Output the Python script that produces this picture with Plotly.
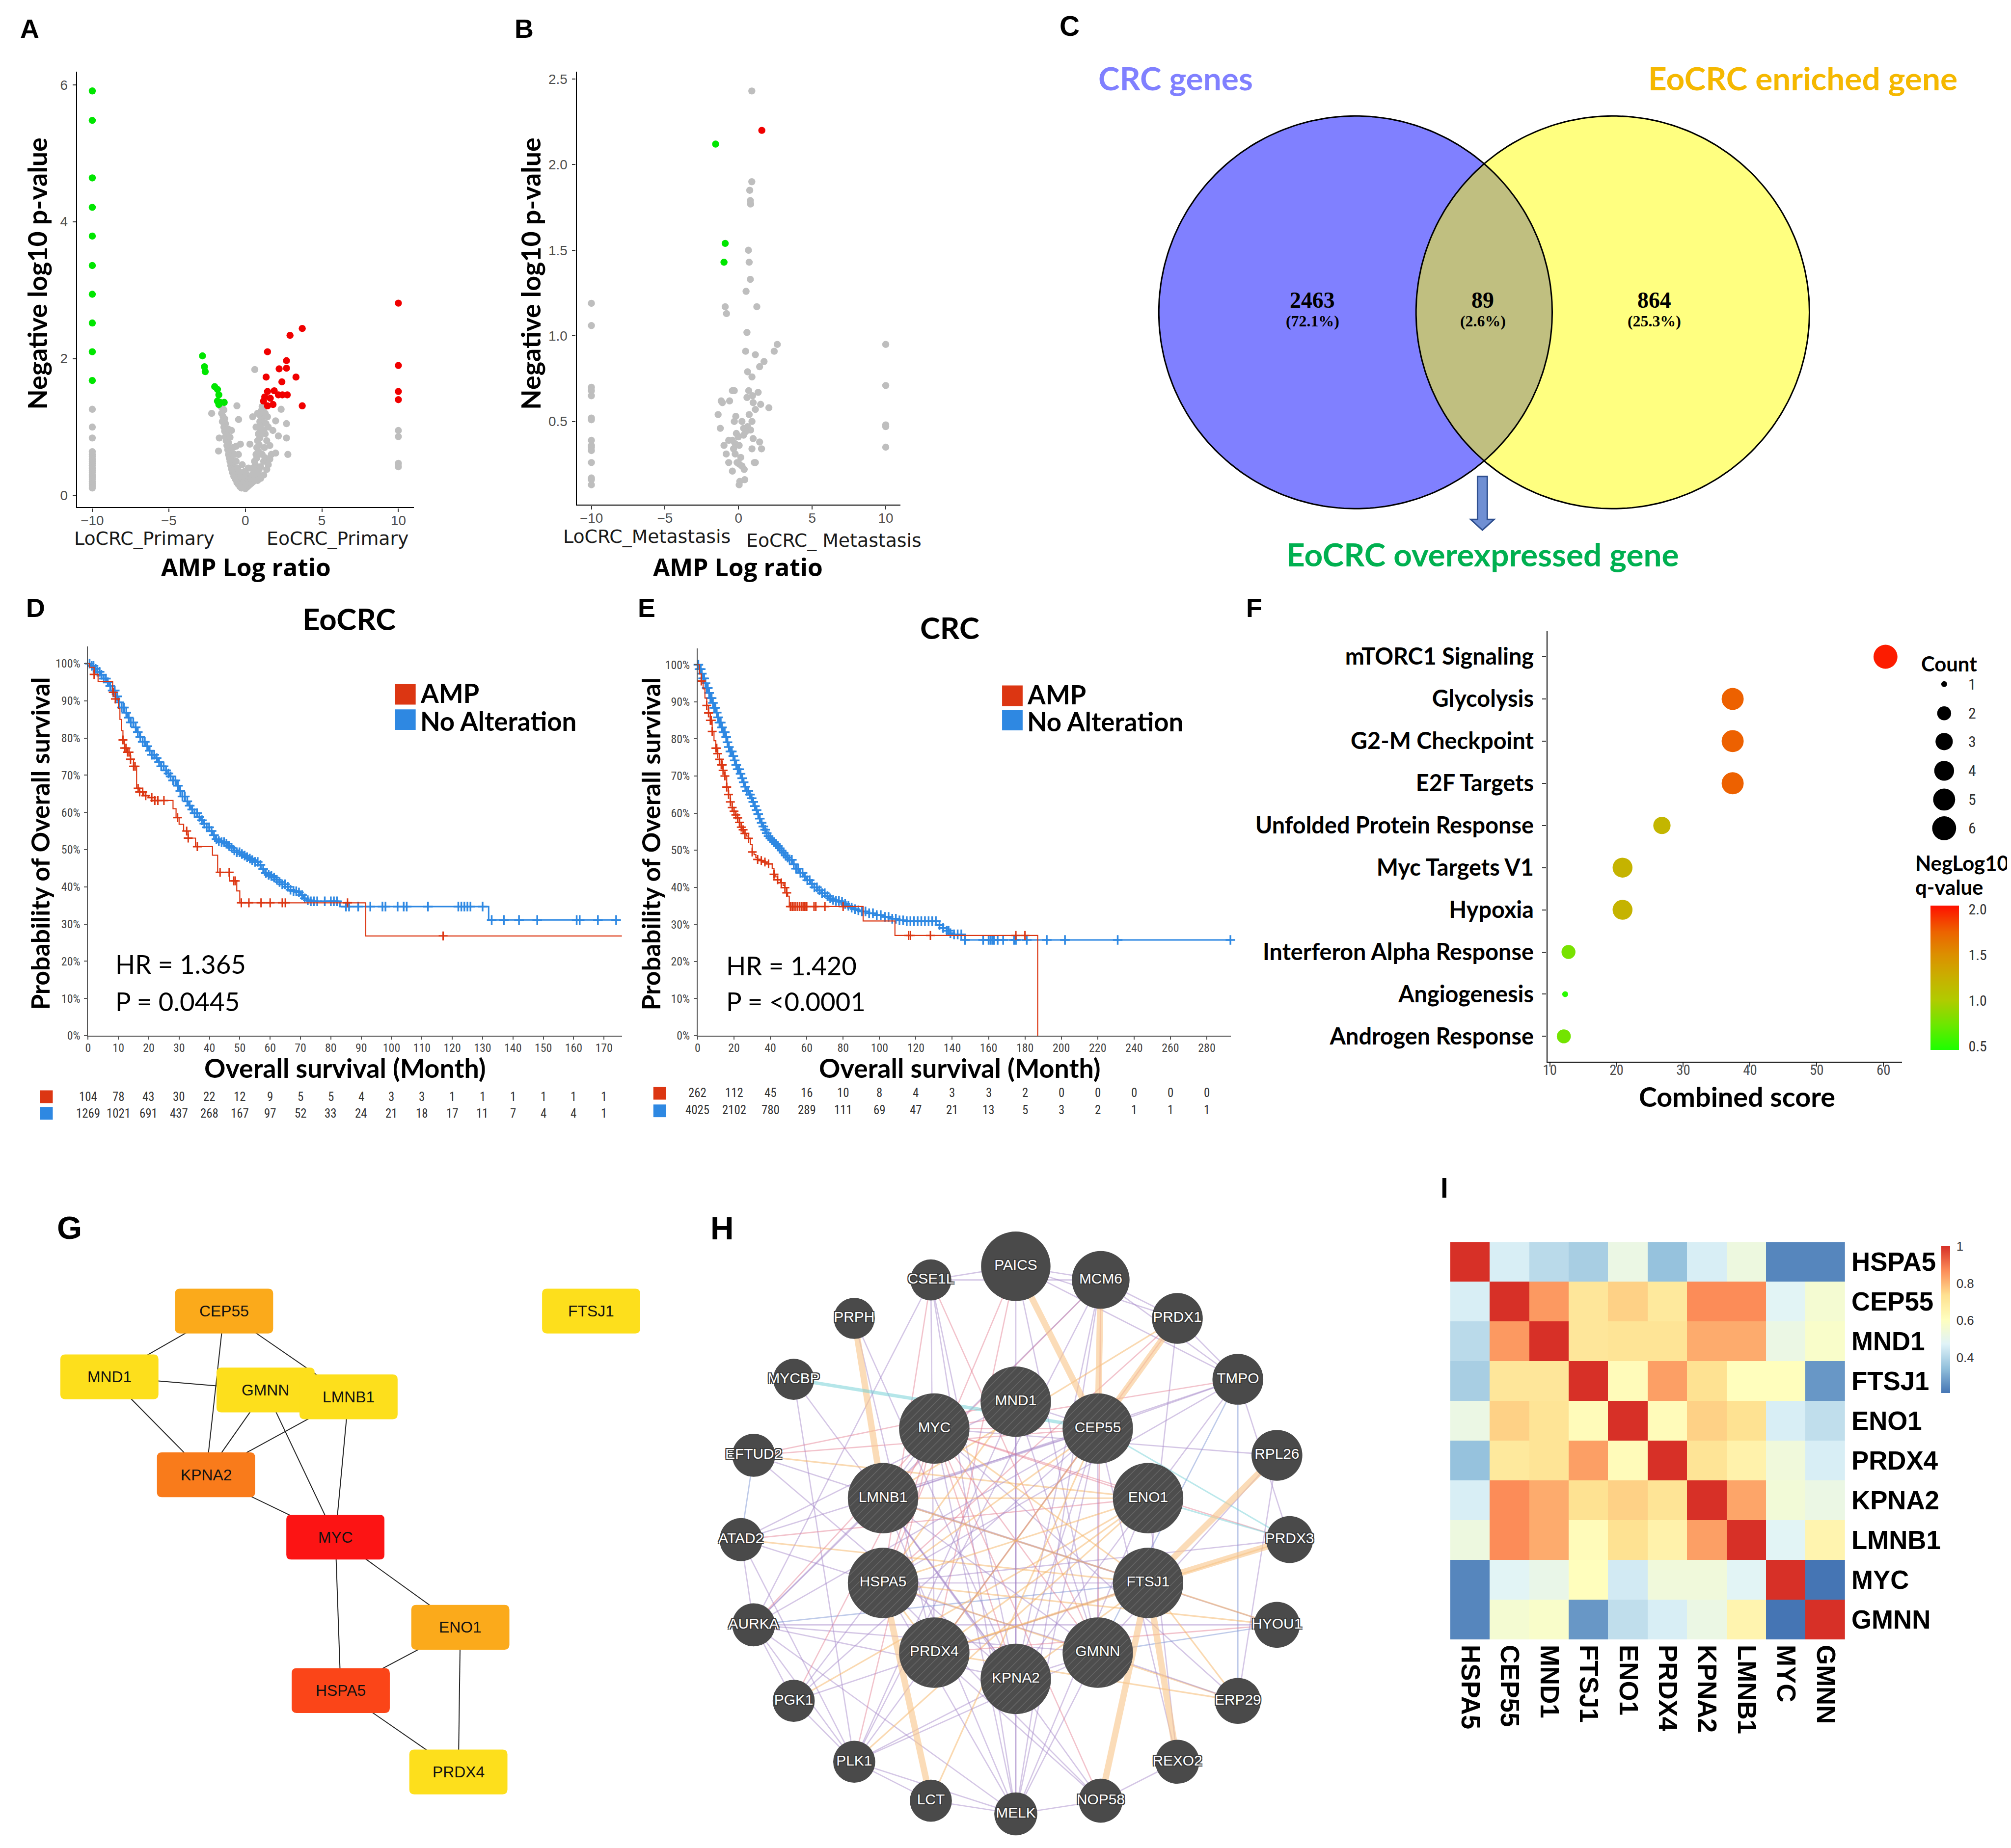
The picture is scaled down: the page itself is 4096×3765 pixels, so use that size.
import numpy as np
import plotly.graph_objects as go

W, H = 4111.0, 3779.0
S = 0.996

def px(x):
    return x / W

def py(y):
    return 1.0 - y / H

def f(s):
    return s * S

def fi(s):
    return int(round(s * S))

LATO = "Lato"
ARIAL = "Liberation Sans, Arial, sans-serif"
NARROW = "Liberation Sans Narrow, Arial Narrow, Roboto Condensed, Roboto, sans-serif"
DEJAVU = "DejaVu Sans"
OPEN = "Open Sans"
SERIF = "Liberation Serif, Times New Roman, serif"

# ============================ DATA ============================
# ---- A: volcano, primary ----
a_gray_pts = [
    (-10, 1.26), (-10, 1.00), (-10, 0.84), (-10, 0.64), (-10, 0.60), (-10, 0.57), (-10, 0.53), (-10, 0.50),
    (-10, 0.47), (-10, 0.44), (-10, 0.40), (-10, 0.37), (-10, 0.34), (-10, 0.30), (-10, 0.27), (-10, 0.24),
    (-10, 0.20), (-10, 0.17), (-10, 0.14), (-10, 0.11),
    (-1.60, 1.30), (-1.50, 1.28), (-1.40, 1.25), (-1.55, 1.20), (-1.45, 1.15), (-1.35, 1.12), (-1.50, 1.08),
    (-1.30, 1.05), (-1.40, 1.00), (-1.25, 0.98), (-1.35, 0.94), (-1.20, 0.90), (-1.30, 0.86), (-1.15, 0.83),
    (-1.25, 0.80), (-1.10, 0.77), (-1.20, 0.73), (-1.05, 0.70), (-1.15, 0.67), (-1.00, 0.64), (-1.10, 0.60),
    (-0.95, 0.58), (-1.05, 0.55), (-0.90, 0.52), (-1.00, 0.50), (-0.85, 0.47), (-0.95, 0.44), (-0.80, 0.42),
    (-0.90, 0.39), (-0.75, 0.37), (-0.85, 0.34), (-0.70, 0.32), (-0.60, 0.30), (-0.75, 0.28), (-0.55, 0.26),
    (-0.65, 0.24), (-0.50, 0.22), (-0.40, 0.20), (-0.55, 0.19), (-0.30, 0.17), (-0.45, 0.16), (-0.20, 0.15),
    (-0.35, 0.13), (-0.10, 0.12), (0.00, 0.10), (-0.25, 0.11), (-0.60, 0.50), (-0.70, 0.60), (-0.50, 0.40),
    (-0.30, 0.30), (-0.80, 0.70), (-0.90, 0.95), (-1.00, 0.85), (-0.40, 0.35), (-0.20, 0.25), (-0.10, 0.20),
    (0.10, 0.18), (0.00, 0.25), (-0.60, 0.72), (-1.70, 0.84), (-1.75, 0.65), (-2.20, 1.20), (-1.12, 0.97),
    (-0.55, 1.31), (-0.44, 1.11), (-0.32, 0.75), (0.30, 0.75), (0.48, 1.15), (0.62, 1.84), (-0.20, 0.45),
    (-0.45, 0.60), (0.20, 0.40), (0.10, 0.30), (-0.05, 0.35),
    (0.10, 0.12), (0.20, 0.14), (0.15, 0.20), (0.30, 0.16), (0.25, 0.22), (0.40, 0.18), (0.35, 0.26),
    (0.50, 0.20), (0.45, 0.30), (0.60, 0.24), (0.55, 0.35), (0.70, 0.28), (0.50, 0.40), (0.65, 0.45),
    (0.80, 0.33), (0.60, 0.50), (0.75, 0.55), (0.90, 0.38), (0.70, 0.60), (0.85, 0.65), (1.00, 0.42),
    (0.75, 0.70), (0.90, 0.74), (0.80, 0.80), (0.95, 0.84), (0.85, 0.90), (1.00, 0.94), (0.90, 1.00),
    (1.05, 1.04), (0.95, 1.08), (1.10, 1.12), (1.00, 1.16), (1.15, 1.20), (1.05, 1.24), (1.20, 1.28),
    (1.10, 1.30), (1.20, 0.50), (1.30, 0.55), (1.10, 0.60), (1.25, 0.70), (1.40, 0.80), (1.30, 0.90),
    (1.50, 1.00), (1.35, 1.05), (1.20, 0.95), (1.45, 1.15), (1.60, 0.73), (1.60, 0.53), (1.40, 0.38),
    (1.20, 0.30), (1.00, 0.25), (0.80, 0.22), (1.50, 0.45), (1.70, 0.60), (1.80, 0.95), (0.70, 1.00),
    (0.80, 1.20), (1.30, 1.20),
    (2.34, 1.26), (1.98, 1.09), (2.69, 1.05), (2.16, 0.87), (2.69, 0.84), (2.78, 0.60), (1.98, 0.62),
    (10, 0.95), (10, 0.86), (10, 0.47), (10, 0.42),
]
a_green_x = [-10, -10, -10, -10, -10, -10, -10, -10, -10, -10,
             -2.80, -2.67, -2.62, -2.00, -1.82, -1.73, -1.82, -1.65, -1.38, -1.73]
a_green_y = [5.91, 5.48, 4.64, 4.21, 3.79, 3.36, 2.94, 2.52, 2.10, 1.68,
             2.04, 1.88, 1.81, 1.59, 1.55, 1.47, 1.38, 1.36, 1.36, 1.33]
a_red_x = [1.45, 1.36, 2.21, 2.69, 2.69, 2.39, 3.31, 2.92, 3.72, 3.72, 1.45, 1.19, 1.63, 1.89,
           2.16, 2.42, 2.74, 1.81, 1.45, 1.27, 10, 10, 10, 10]
a_red_y = [2.10, 1.73, 1.85, 1.97, 1.86, 1.66, 1.73, 2.34, 2.44, 1.31, 1.52, 1.38, 1.42, 1.53,
           1.47, 1.47, 1.47, 1.33, 1.31, 1.44, 2.81, 1.90, 1.52, 1.40]
a_xticks = [-10, -5, 0, 5, 10]
a_yticks = [0, 2, 4, 6]
a_groups = ["LoCRC_Primary", "EoCRC_Primary"]

# ---- B: volcano, metastasis ----
b_gray_pts = [
    (0.90, 2.43), (0.90, 1.90), (0.76, 1.85), (0.80, 1.79), (0.82, 1.77), (0.67, 1.50), (0.72, 1.43),
    (0.80, 1.33), (0.51, 1.26), (1.24, 1.17), (-0.91, 1.17), (-0.82, 1.13), (0.57, 1.02), (2.63, 0.95),
    (2.42, 0.91), (0.48, 0.91), (1.14, 0.89), (1.73, 0.85), (1.43, 0.82), (0.61, 0.79), (0.91, 0.76),
    (-0.42, 0.68), (-0.29, 0.68), (0.69, 0.68), (1.33, 0.67), (0.95, 0.65), (0.57, 0.64), (-1.18, 0.62),
    (-0.61, 0.62), (-1.10, 0.61), (0.99, 0.61), (1.50, 0.60), (2.06, 0.58), (1.14, 0.57), (-1.39, 0.54),
    (0.72, 0.54), (-0.19, 0.53), (-0.29, 0.50), (0.23, 0.50), (0.91, 0.50), (0.61, 0.47), (0.34, 0.46),
    (-1.24, 0.46), (0.82, 0.45), (0.48, 0.44), (-0.15, 0.43), (0.34, 0.42), (0.99, 0.40), (-0.67, 0.39),
    (-0.42, 0.39), (-0.02, 0.41), (1.43, 0.38), (-0.99, 0.36), (-0.23, 0.37), (0.04, 0.36), (0.91, 0.34),
    (1.56, 0.34), (-0.34, 0.34), (-0.84, 0.31), (-0.23, 0.31), (0.15, 0.29), (-0.10, 0.26), (1.07, 0.26),
    (1.14, 0.26), (-0.67, 0.26), (0.06, 0.25), (0.23, 0.24), (0.38, 0.22), (-0.42, 0.21), (0.42, 0.16),
    (0.08, 0.15), (0.04, 0.13),
    (-10, 1.19), (-10, 1.06), (-10, 0.70), (-10, 0.68), (-10, 0.65), (-10, 0.52), (-10, 0.51), (-10, 0.39),
    (-10, 0.36), (-10, 0.35), (-10, 0.33), (-10, 0.26), (-10, 0.17), (-10, 0.16), (-10, 0.13),
    (10, 0.95), (10, 0.71), (10, 0.48), (10, 0.47), (10, 0.35),
]
b_green_x = [-1.56, -0.91, -0.99]
b_green_y = [2.12, 1.54, 1.43]
b_red_x = [1.58]
b_red_y = [2.20]
b_yticks = [0.5, 1.0, 1.5, 2.0, 2.5]
b_groups = ["LoCRC_Metastasis", "EoCRC_ Metastasis"]

# ---- C: Venn ----
venn_sets = ["CRC genes", "EoCRC enriched gene"]
venn_counts = [2463, 89, 864]          # CRC only, both, EoCRC only
venn_result = "EoCRC overexpressed gene"

# ---- D: KM EoCRC ----
d_amp_t = [0, 0.5, 2, 3.3, 8.1, 9, 10, 10.5, 11, 11.5, 12, 13, 14, 15, 16, 17, 18.4, 20, 22, 28,
           29, 30, 31.5, 33, 35.4, 41, 42.7, 46.6, 49, 50, 91.5]
d_amp_s = [100, 99, 97.1, 95.2, 92.3, 90.5, 88, 85, 82, 79.5, 77.3, 76.2, 74.3, 72.4, 66.5, 65.5, 64.5,
           64, 63.2, 61, 58.6, 56.8, 55, 53.1, 50.8, 48.5, 43.9, 41.6, 38.9, 35.7, 26.8]
d_amp_end = 176
d_amp_cens = [2, 8.3, 9, 11.5, 12, 12.5, 13, 13.5, 14, 15, 15.5, 16.5, 17, 18, 19, 21, 22, 23, 25,
              29.5, 32.5, 33, 36, 43.5, 46.5, 48, 48.5, 50.5, 53, 57, 60, 64, 65, 85.5, 117, 176]
d_no_t = [0, 1, 2, 3, 4, 5, 6, 7, 8, 9, 10, 11, 12, 13, 14, 15, 16, 17, 18, 19, 20, 21, 22, 23, 24, 25,
          26, 27, 28, 29, 30, 31, 32, 33, 34, 35, 36, 37, 38, 39, 40, 41, 42, 43, 44, 45, 46, 47, 48, 49,
          50, 51, 52, 53, 54, 55, 56, 57, 58, 59, 60, 61, 62, 63, 64, 65, 66, 67, 68, 69, 70, 71, 72, 73,
          83, 132]
d_no_s = [100, 99.4, 98.6, 97.8, 97.0, 96.0, 95.0, 94.0, 92.8, 91.2, 89.6, 88.2, 86.8, 85.5, 84.2, 82.9,
          81.6, 80.3, 79.0, 77.8, 76.6, 75.5, 74.6, 73.6, 72.4, 71.3, 70.5, 69.7, 68.6, 67.2, 65.8, 64.3,
          63.0, 61.8, 60.8, 59.8, 58.8, 57.9, 57.0, 56.0, 55.0, 53.9, 52.8, 52.3, 52.0, 51.6, 51.0, 50.5,
          49.8, 49.3, 48.8, 48.4, 48.0, 47.6, 47.2, 46.7, 45.9, 44.8, 43.7, 43.2, 42.9, 42.5, 41.9, 41.3,
          40.7, 40.0, 39.2, 38.9, 38.8, 38.5, 37.8, 36.9, 36.4, 36.1, 34.7, 31.1]
d_no_end = 174
d_no_cens = [0.5, 1.2, 1.8, 2.5, 3.1, 3.8, 4.4, 5.2, 5.9, 6.5, 7.3, 8.1, 8.8, 9.6, 10.3, 11.1, 11.8, 12.6,
             13.4, 14.1, 14.9, 15.7, 16.4, 17.2, 18.0, 18.7, 19.5, 20.3, 21.0, 21.8, 22.6, 23.4, 24.1, 24.9,
             25.7, 26.5, 27.2, 28.0, 28.8, 29.6, 30.4, 31.1, 31.9, 32.7, 33.5, 34.3, 35.1, 35.9, 36.7, 37.5,
             38.3, 39.1, 39.9, 40.7, 41.5, 42.3, 43.1, 44.0, 44.8, 45.6, 46.5, 47.3, 48.2, 49.0, 49.9, 50.7,
             51.6, 52.4, 53.3, 54.1, 55.0, 55.9, 56.8, 57.7, 58.6, 59.5, 60.4, 61.3, 62.2, 63.1, 64.0, 64.9,
             65.8, 66.7, 67.7, 68.6, 69.5, 70.5, 71.4, 72.4, 73.4, 74.4, 75.5, 78, 80, 81, 82, 85, 86, 89, 93,
             97, 98, 102, 104, 105, 112, 122, 123, 124, 125, 126, 130, 133, 137, 142, 148, 161, 162, 168, 174]
d_xticks = [0, 10, 20, 30, 40, 50, 60, 70, 80, 90, 100, 110, 120, 130, 140, 150, 160, 170]
d_risk_amp = [104, 78, 43, 30, 22, 12, 9, 5, 5, 4, 3, 3, 1, 1, 1, 1, 1, 1]
d_risk_no = [1269, 1021, 691, 437, 268, 167, 97, 52, 33, 24, 21, 18, 17, 11, 7, 4, 4, 1]
d_stats = ["HR = 1.365", "P = 0.0445"]

# ---- E: KM CRC ----
e_amp_t = [0, 1, 2, 3, 4, 5, 6, 7, 8, 9, 10, 11, 12, 13, 14, 15, 16, 17, 18, 19, 20, 21, 22, 23, 24, 25,
           26, 27, 28, 29, 30, 31, 32, 33, 34, 36, 38, 41, 42, 43, 44, 45.5, 47, 48, 49, 49.5, 50.4, 91,
           108.5, 187]
e_amp_s = [100, 97.5, 95.6, 93.5, 91, 89, 87, 85, 82, 79.5, 77.5, 76, 74.5, 73, 71.5, 70, 67, 65, 63,
           61.5, 60.5, 59.5, 58.7, 57.5, 56.2, 55.5, 54.5, 53.8, 53.2, 51.5, 49.5, 48.8, 48, 47.5, 47.2,
           46.8, 46.3, 45, 43.5, 42.8, 42, 41.2, 40.5, 39.9, 38.5, 37.6, 34.8, 30.9, 27, 0]
e_amp_end = 187
e_amp_cens = [2, 5, 6, 7, 7.5, 8, 10, 10.5, 11, 12, 13, 13.5, 14, 15, 16, 17, 18, 19, 20, 21, 22, 23,
              24, 25, 26, 28, 30, 33, 35, 37, 39, 42, 44, 46, 48, 49, 51, 52, 53, 54, 55, 56, 57, 58, 59,
              60, 64, 65, 70, 80, 116, 117, 128, 175, 180]
e_no_t = [0, 1, 2, 3, 4, 5, 6, 7, 8, 9, 10, 11, 12, 13, 14, 15, 16, 17, 18, 19, 20, 21, 22, 23, 24, 25,
          26, 27, 28, 29, 30, 31, 32, 33, 34, 35, 36, 37, 38, 39, 40, 41, 42, 43, 44, 45, 46, 47, 48, 49,
          50, 52, 54, 56, 58, 60, 62, 64, 66, 68, 70, 72, 74, 76, 78, 80, 82, 84, 86, 88, 90, 94, 98, 102,
          106, 110, 115, 133, 135, 137, 139, 141, 147]
e_no_s = [100, 98.8, 97.6, 96.3, 95, 93.7, 92.4, 91, 89.7, 88.4, 87.1, 85.8, 84.4, 83.1, 81.8, 80.5, 79.1,
          77.8, 76.6, 75.4, 74.2, 73, 71.8, 70.6, 69.4, 68.3, 67.1, 66, 65, 64, 63, 61.9, 60.8, 59.7, 58.5,
          57.4, 56.4, 55.5, 54.6, 53.8, 53.2, 52.7, 52.2, 51.7, 51.1, 50.5, 49.9, 49.3, 48.6, 48, 47.4,
          46.2, 45, 43.9, 42.9, 41.9, 40.9, 40, 39.2, 38.4, 37.6, 37, 36.6, 36.3, 36, 35.5, 35, 34.5, 34.1,
          33.8, 33.5, 33, 32.5, 32, 31.5, 31.1, 30.9, 29.8, 29, 28.3, 27.6, 27.3, 25.8]
e_no_end = 293
e_no_cens = [0.4, 1.0, 1.7, 2.3, 3.0, 3.6, 4.3, 5.0, 5.6, 6.3, 7.0, 7.7, 8.4, 9.1, 9.8, 10.5, 11.2, 12.0,
             12.7, 13.4, 14.2, 14.9, 15.7, 16.4, 17.2, 18.0, 18.8, 19.6, 20.4, 21.2, 22.0, 22.8, 23.6, 24.5,
             25.3, 26.2, 27.0, 27.9, 28.8, 29.7, 30.6, 31.5, 32.4, 33.3, 34.2, 35.2, 36.1, 37.1, 38.0, 39.0,
             40.0, 41.0, 42.0, 43.0, 44.1, 45.1, 46.2, 47.3, 48.4, 49.5, 50.6, 51.8, 52.9, 54.1, 55.3, 56.5,
             57.7, 59.0, 60.3, 61.6, 62.9, 64.2, 65.6, 67.0, 68.4, 69.9, 71.4, 72.9, 74.5, 76.1, 77.7, 79.4,
             81.1, 82.9, 84.7, 86.5, 88.4, 90.3, 92.3, 94.3, 96.4, 98.5, 100.7, 103, 105, 107, 109, 111, 113,
             115, 117, 119, 121, 123, 125, 127, 129, 131, 133, 135, 137, 138, 139, 141, 143, 145, 147, 157,
             160, 161, 162, 163, 165, 168, 174, 175, 181, 192, 202, 231, 293]
e_xticks = [0, 20, 40, 60, 80, 100, 120, 140, 160, 180, 200, 220, 240, 260, 280]
e_risk_amp = [262, 112, 45, 16, 10, 8, 4, 3, 3, 2, 0, 0, 0, 0, 0]
e_risk_no = [4025, 2102, 780, 289, 111, 69, 47, 21, 13, 5, 3, 2, 1, 1, 1]
e_stats = ["HR = 1.420", "P = &lt;0.0001"]
km_yticks = [0, 10, 20, 30, 40, 50, 60, 70, 80, 90, 100]
km_groups = ["AMP", "No Alteration"]

# ---- F: enrichment dot plot ----
f_terms = ["mTORC1 Signaling", "Glycolysis", "G2-M Checkpoint", "E2F Targets", "Unfolded Protein Response",
           "Myc Targets V1", "Hypoxia", "Interferon Alpha Response", "Angiogenesis", "Androgen Response"]
f_score = [60.3, 37.4, 37.4, 37.4, 26.8, 20.9, 20.9, 12.8, 12.3, 12.1]
f_count = [6, 5, 5, 5, 3, 4, 4, 2, 1, 2]
f_negq = [2.0, 1.76, 1.76, 1.76, 1.2, 1.22, 1.22, 0.78, 0.5, 0.76]
f_xticks = [10, 20, 30, 40, 50, 60]
f_count_levels = [1, 2, 3, 4, 5, 6]
f_q_ticks = [0.5, 1.0, 1.5, 2.0]

# ---- G: hub network ----
g_genes = ["CEP55", "FTSJ1", "MND1", "GMNN", "LMNB1", "KPNA2", "MYC", "ENO1", "HSPA5", "PRDX4"]
g_edges = [("CEP55", "MND1"), ("CEP55", "KPNA2"), ("CEP55", "LMNB1"), ("MND1", "GMNN"), ("MND1", "KPNA2"),
           ("GMNN", "KPNA2"), ("LMNB1", "KPNA2"), ("GMNN", "MYC"), ("LMNB1", "MYC"), ("KPNA2", "MYC"),
           ("MYC", "HSPA5"), ("MYC", "ENO1"), ("ENO1", "HSPA5"), ("ENO1", "PRDX4"), ("HSPA5", "PRDX4")]

# ---- H: GeneMANIA network ----
h_edges = [
    ("CSE1L", "KPNA2", "p"), ("CSE1L", "PRDX4", "p"), ("CSE1L", "GMNN", "r"), ("CSE1L", "MELK", "p"),
    ("CSE1L", "PAICS", "p"), ("CSE1L", "MCM6", "p"), ("CSE1L", "HSPA5", "r"), ("CSE1L", "AURKA", "p"),
    ("PAICS", "MCM6", "p"), ("PAICS", "KPNA2", "p"), ("PAICS", "PRDX4", "r"), ("PAICS", "TMPO", "p"),
    ("PAICS", "PRDX1", "p"), ("PAICS", "GMNN", "p"), ("PAICS", "HSPA5", "r"),
    ("MCM6", "TMPO", "p"), ("MCM6", "PRDX1", "p"), ("MCM6", "KPNA2", "p"), ("MCM6", "GMNN", "r"),
    ("MCM6", "PLK1", "p"), ("MCM6", "MELK", "p"), ("MCM6", "LMNB1", "r"), ("MCM6", "AURKA", "p"),
    ("PRDX1", "TMPO", "p"), ("PRDX1", "PRDX4", "r"), ("PRDX1", "HSPA5", "r"), ("PRDX1", "LMNB1", "o"),
    ("PRDX1", "FTSJ1", "p"), ("TMPO", "MYC", "r"), ("TMPO", "LMNB1", "p"), ("TMPO", "HSPA5", "p"),
    ("TMPO", "GMNN", "b"), ("TMPO", "ERP29", "b"), ("TMPO", "KPNA2", "p"), ("TMPO", "PRDX3", "p"),
    ("TMPO", "CEP55", "p"), ("PRPH", "PRDX4", "p"), ("PRPH", "KPNA2", "p"), ("MYCBP", "KPNA2", "p"),
    ("MYCBP", "PLK1", "p"), ("EFTUD2", "CEP55", "r"), ("EFTUD2", "ENO1", "o"), ("EFTUD2", "ATAD2", "b"),
    ("EFTUD2", "KPNA2", "p"), ("EFTUD2", "FTSJ1", "p"), ("EFTUD2", "MND1", "r"), ("ATAD2", "CEP55", "p"),
    ("ATAD2", "MND1", "p"), ("ATAD2", "GMNN", "p"), ("ATAD2", "AURKA", "p"), ("ATAD2", "PLK1", "p"),
    ("ATAD2", "ENO1", "r"), ("ATAD2", "FTSJ1", "o"), ("AURKA", "PLK1", "p"), ("AURKA", "MELK", "p"),
    ("AURKA", "CEP55", "p"), ("AURKA", "KPNA2", "p"), ("AURKA", "GMNN", "p"), ("AURKA", "MYC", "r"),
    ("AURKA", "PGK1", "p"), ("AURKA", "LMNB1", "p"), ("AURKA", "FTSJ1", "b"), ("PGK1", "ENO1", "o"),
    ("PGK1", "MYC", "r"), ("PGK1", "HSPA5", "p"), ("PGK1", "PLK1", "p"), ("PGK1", "FTSJ1", "p"),
    ("PGK1", "CEP55", "p"), ("PLK1", "CEP55", "p"), ("PLK1", "MND1", "p"), ("PLK1", "KPNA2", "p"),
    ("PLK1", "MYC", "r"), ("PLK1", "MELK", "p"), ("PLK1", "GMNN", "p"), ("PLK1", "LCT", "p"),
    ("PLK1", "ENO1", "o"), ("LCT", "CEP55", "o"), ("LCT", "MELK", "p"), ("MELK", "CEP55", "p"),
    ("MELK", "MND1", "p"), ("MELK", "GMNN", "p"), ("MELK", "MYC", "p"), ("MELK", "LMNB1", "p"),
    ("MELK", "HSPA5", "p"), ("MELK", "NOP58", "p"), ("MELK", "ENO1", "p"), ("MELK", "KPNA2", "p"),
    ("NOP58", "MYC", "r"), ("NOP58", "REXO2", "p"), ("NOP58", "PRDX4", "p"), ("NOP58", "HSPA5", "p"),
    ("NOP58", "LMNB1", "p"), ("REXO2", "ENO1", "p"), ("REXO2", "CEP55", "p"), ("ERP29", "HSPA5", "o"),
    ("ERP29", "PRDX4", "o"), ("ERP29", "MYC", "p"), ("ERP29", "GMNN", "p"), ("HYOU1", "HSPA5", "o"),
    ("HYOU1", "PRDX4", "r"), ("HYOU1", "LMNB1", "p"), ("HYOU1", "AURKA", "p"), ("HYOU1", "GMNN", "b"),
    ("PRDX3", "PRDX4", "o"), ("PRDX3", "HSPA5", "p"), ("PRDX3", "MYC", "r"), ("RPL26", "MYC", "p"),
    ("RPL26", "GMNN", "p"), ("RPL26", "ERP29", "p"), ("MYC", "CEP55", "r"), ("MYC", "ENO1", "r"),
    ("MYC", "HSPA5", "r"), ("MYC", "KPNA2", "r"), ("MYC", "GMNN", "r"), ("MYC", "LMNB1", "p"),
    ("MND1", "CEP55", "p"), ("MND1", "KPNA2", "p"), ("MND1", "GMNN", "p"), ("MND1", "HSPA5", "o"),
    ("CEP55", "KPNA2", "p"), ("CEP55", "GMNN", "p"), ("CEP55", "LMNB1", "p"), ("CEP55", "HSPA5", "o"),
    ("CEP55", "PRDX4", "o"), ("ENO1", "HSPA5", "o"), ("ENO1", "PRDX4", "o"), ("ENO1", "LMNB1", "o"),
    ("HSPA5", "PRDX4", "o"), ("HSPA5", "FTSJ1", "p"), ("LMNB1", "KPNA2", "p"), ("LMNB1", "GMNN", "p"),
    ("KPNA2", "GMNN", "p"), ("FTSJ1", "PRDX4", "o"), ("FTSJ1", "LMNB1", "o"), ("FTSJ1", "KPNA2", "o"),
    ("FTSJ1", "MYC", "o"), ("CEP55", "PRDX3", "t"), ("ENO1", "PRDX3", "t"),
    ("PAICS", "CEP55", "O"), ("MCM6", "CEP55", "O"), ("PRDX1", "CEP55", "O"), ("RPL26", "FTSJ1", "O"),
    ("PRDX3", "FTSJ1", "O"), ("REXO2", "FTSJ1", "O"), ("NOP58", "FTSJ1", "O"), ("PRPH", "LMNB1", "O"),
    ("LCT", "HSPA5", "O"), ("HYOU1", "FTSJ1", "o"), ("ERP29", "FTSJ1", "o"), ("MYCBP", "CEP55", "T"),
]
h_inner = ["MND1", "MYC", "CEP55", "LMNB1", "ENO1", "HSPA5", "FTSJ1", "PRDX4", "GMNN", "KPNA2"]

# ---- I: correlation heatmap ----
i_genes = ["HSPA5", "CEP55", "MND1", "FTSJ1", "ENO1", "PRDX4", "KPNA2", "LMNB1", "MYC", "GMNN"]
i_corr = [
    [1.00, 0.46, 0.41, 0.38, 0.52, 0.35, 0.46, 0.53, 0.24, 0.24],
    [0.46, 1.00, 0.85, 0.71, 0.76, 0.70, 0.87, 0.87, 0.48, 0.56],
    [0.41, 0.85, 1.00, 0.71, 0.72, 0.72, 0.82, 0.82, 0.52, 0.58],
    [0.38, 0.71, 0.71, 1.00, 0.62, 0.84, 0.73, 0.61, 0.61, 0.27],
    [0.52, 0.76, 0.72, 0.62, 1.00, 0.62, 0.76, 0.73, 0.46, 0.42],
    [0.35, 0.70, 0.72, 0.84, 0.62, 1.00, 0.72, 0.66, 0.54, 0.46],
    [0.46, 0.87, 0.82, 0.73, 0.76, 0.72, 1.00, 0.83, 0.55, 0.52],
    [0.53, 0.87, 0.82, 0.62, 0.73, 0.66, 0.84, 1.00, 0.48, 0.65],
    [0.24, 0.48, 0.51, 0.61, 0.45, 0.54, 0.54, 0.48, 1.00, 0.21],
    [0.24, 0.56, 0.58, 0.27, 0.42, 0.46, 0.52, 0.65, 0.21, 1.00],
]
i_ticks = [0.4, 0.6, 0.8, 1.0]

# ============================ LAYOUT CONSTANTS (reference px) ============================
g_pos = {"CEP55": (442, 2683), "FTSJ1": (1194, 2683), "MND1": (207, 2818), "GMNN": (527, 2845),
         "LMNB1": (697, 2859), "KPNA2": (405, 3019), "MYC": (670, 3147), "ENO1": (926, 3332),
         "HSPA5": (681, 3462), "PRDX4": (922, 3629)}
g_col = {"CEP55": "#fbaa1b", "FTSJ1": "#fddf1c", "MND1": "#fddf1c", "GMNN": "#fddf1c", "LMNB1": "#fddf1c",
         "KPNA2": "#f97b1b", "MYC": "#fc1414", "ENO1": "#fbaa1b", "HSPA5": "#fb4518", "PRDX4": "#fddf1c"}
h_pos = {
    "PAICS": (2064, 2591, 71), "MCM6": (2238, 2619, 59), "CSE1L": (1890, 2619, 42), "PRPH": (1733, 2698, 42),
    "PRDX1": (2395, 2698, 52), "MYCBP": (1609, 2823, 42), "TMPO": (2519, 2823, 52), "MND1": (2064, 2869, 72),
    "MYC": (1897, 2924, 72), "CEP55": (2232, 2924, 72), "EFTUD2": (1527, 2979, 44), "RPL26": (2599, 2979, 52),
    "LMNB1": (1792, 3067, 72), "ENO1": (2335, 3067, 72), "ATAD2": (1501, 3152, 44), "PRDX3": (2625, 3152, 48),
    "HSPA5": (1792, 3241, 72), "FTSJ1": (2335, 3241, 72), "AURKA": (1527, 3327, 44), "HYOU1": (2599, 3327, 47),
    "PRDX4": (1897, 3384, 72), "GMNN": (2232, 3384, 72), "KPNA2": (2064, 3438, 72), "PGK1": (1609, 3483, 43),
    "ERP29": (2519, 3483, 47), "PLK1": (1733, 3608, 43), "REXO2": (2395, 3608, 45), "LCT": (1890, 3688, 43),
    "NOP58": (2238, 3688, 45), "MELK": (2064, 3715, 44)}
h_style = {"p": ("rgba(165,135,200,0.48)", 2.6), "r": ("rgba(226,120,140,0.45)", 2.6),
           "o": ("rgba(245,180,100,0.50)", 3.2), "b": ("rgba(120,145,210,0.48)", 2.6),
           "O": ("rgba(248,198,140,0.62)", 13.0), "T": ("rgba(120,210,215,0.55)", 7.0),
           "t": ("rgba(120,210,215,0.50)", 3.0)}

AMP_RED = "#dc3612"
NO_BLUE = "#2e88e2"

# ============================ FIGURE ============================
fig = go.Figure()


def sc(**kw):
    kw.setdefault("showlegend", False)
    kw.setdefault("hoverinfo", "skip")
    fig.add_trace(go.Scatter(**kw))


PT = 14.5
# ---- A & B scatter ----
sc(x=[p[0] for p in a_gray_pts], y=[p[1] for p in a_gray_pts], mode="markers",
   marker=dict(color="#bebebe", size=f(PT), opacity=1, line=dict(width=0)), xaxis="x", yaxis="y")
sc(x=a_green_x, y=a_green_y, mode="markers",
   marker=dict(color="#00e600", size=f(PT), opacity=1, line=dict(width=0)), xaxis="x", yaxis="y")
sc(x=a_red_x, y=a_red_y, mode="markers",
   marker=dict(color="#f00000", size=f(PT), opacity=1, line=dict(width=0)), xaxis="x", yaxis="y")
sc(x=[p[0] for p in b_gray_pts], y=[p[1] for p in b_gray_pts], mode="markers",
   marker=dict(color="#bebebe", size=f(PT), opacity=1, line=dict(width=0)), xaxis="x2", yaxis="y2")
sc(x=b_green_x, y=b_green_y, mode="markers",
   marker=dict(color="#00e600", size=f(PT), opacity=1, line=dict(width=0)), xaxis="x2", yaxis="y2")
sc(x=b_red_x, y=b_red_y, mode="markers",
   marker=dict(color="#f00000", size=f(PT), opacity=1, line=dict(width=0)), xaxis="x2", yaxis="y2")


# ---- KM ----
def km(t, s, t_end, cens, color, xa, ya, lw=2.2, ms=13, mw=3):
    sc(x=list(t) + [t_end], y=list(s) + [s[-1]], mode="lines",
       line=dict(color=color, width=f(lw), shape="hv"), xaxis=xa, yaxis=ya)
    idx = np.searchsorted(np.asarray(t, float), np.asarray(cens, float), side="right") - 1
    cy = np.asarray(s, float)[idx]
    sc(x=cens, y=cy, mode="markers", cliponaxis=False,
       marker=dict(symbol="cross-thin", size=f(ms), color=color, opacity=1, line=dict(color=color, width=f(mw))),
       xaxis=xa, yaxis=ya)


km(d_no_t, d_no_s, d_no_end, d_no_cens, NO_BLUE, "x3", "y3", lw=3, ms=14, mw=3.5)
km(d_amp_t, d_amp_s, d_amp_end, d_amp_cens, AMP_RED, "x3", "y3")
km(e_no_t, e_no_s, e_no_end, e_no_cens, NO_BLUE, "x4", "y4", lw=3, ms=14, mw=3.5)
km(e_amp_t, e_amp_s, e_amp_end, e_amp_cens, AMP_RED, "x4", "y4")

# ---- F dot plot ----
def count_size(c):
    c = np.asarray(c, float)
    return (12 + 37 * np.sqrt((c - 1) / 5.0)) * S


F_CMIN, F_CMAX = 0.46, 2.04
F_CS = [[0.0, "#1eff00"], [0.18, "#6fe600"], [0.342, "#b0cc00"], [0.5, "#c8b000"],
        [0.658, "#dc9000"], [0.816, "#ec6400"], [1.0, "#ff1000"]]
sc(x=f_score, y=f_terms, mode="markers", xaxis="x5", yaxis="y5",
   marker=dict(size=count_size(f_count), color=f_negq, colorscale=F_CS, cmin=F_CMIN, cmax=F_CMAX,
               opacity=1, line=dict(width=0), showscale=True,
               colorbar=dict(x=px(3938), xanchor="left", xpad=0, y=py((1851 + 2147) / 2), yanchor="middle",
                             ypad=0, len=(2147 - 1851) / H, lenmode="fraction", thickness=f(58),
                             thicknessmode="pixels", outlinewidth=0, tickvals=f_q_ticks,
                             ticktext=["%.1f" % v for v in f_q_ticks], ticks="outside", ticklen=f(14),
                             tickcolor="rgba(0,0,0,0)", tickfont=dict(family=NARROW, size=f(30), color="#333333"))))

# ---- I heatmap ----
RDYLBU = [[0.0, "#4575B4"], [1 / 6, "#91BFDB"], [2 / 6, "#E0F3F8"], [3 / 6, "#FFFFBF"],
          [4 / 6, "#FEE090"], [5 / 6, "#FC8D59"], [1.0, "#D73027"]]
fig.add_trace(go.Heatmap(z=i_corr, x=i_genes, y=i_genes, colorscale=RDYLBU, zmin=0.21, zmax=1.0,
                         xaxis="x6", yaxis="y6", hoverinfo="skip",
                         colorbar=dict(x=px(3960), xanchor="left", xpad=0, y=py((2550 + 2851) / 2),
                                       yanchor="middle", ypad=0, len=(2851 - 2550) / H, lenmode="fraction",
                                       thickness=f(18), thicknessmode="pixels", outlinewidth=0,
                                       tickvals=i_ticks, ticktext=["0.4", "0.6", "0.8", "1"], ticks="outside",
                                       ticklen=f(8), tickcolor="rgba(0,0,0,0)",
                                       tickfont=dict(family=ARIAL, size=f(26), color="#333333"))))

# ---- C: Venn (canvas) ----
C1 = (2760, 633)
C2 = (3287, 633)
R = 403
th = np.linspace(0, 2 * np.pi, 240)
sc(x=C1[0] + R * np.cos(th), y=C1[1] + R * np.sin(th), mode="lines", fill="toself", fillcolor="#8080ff",
   line=dict(width=0), xaxis="x7", yaxis="y7")
sc(x=C2[0] + R * np.cos(th), y=C2[1] + R * np.sin(th), mode="lines", fill="toself", fillcolor="#ffff80",
   line=dict(width=0), xaxis="x7", yaxis="y7")
dd = C2[0] - C1[0]
al = np.arccos((dd / 2) / R)
a1 = np.linspace(-al, al, 80)
a2 = np.linspace(np.pi - al, np.pi + al, 80)
lx = np.concatenate([C1[0] + R * np.cos(a1), C2[0] + R * np.cos(a2)])
ly = np.concatenate([C1[1] + R * np.sin(a1), C2[1] + R * np.sin(a2)])
sc(x=lx, y=ly, mode="lines", fill="toself", fillcolor="#c0bf80", line=dict(width=0), xaxis="x7", yaxis="y7")
for c in (C1, C2):
    sc(x=c[0] + R * np.cos(th), y=c[1] + R * np.sin(th), mode="lines", line=dict(color="black", width=f(3)),
       xaxis="x7", yaxis="y7")

# ---- G edges ----
gx, gy = [], []
for a, b in g_edges:
    gx += [g_pos[a][0], g_pos[b][0], None]
    gy += [g_pos[a][1], g_pos[b][1], None]
sc(x=gx, y=gy, mode="lines", line=dict(color="#222222", width=f(2)), xaxis="x7", yaxis="y7")

# ---- H edges & nodes ----
for a, b, k in h_edges:
    col, w = h_style[k]
    sc(x=[h_pos[a][0], h_pos[b][0]], y=[h_pos[a][1], h_pos[b][1]], mode="lines",
       line=dict(color=col, width=f(w)), xaxis="x7", yaxis="y7")
h_names = list(h_pos.keys())
sc(x=[h_pos[n][0] for n in h_names], y=[h_pos[n][1] for n in h_names], mode="markers",
   marker=dict(size=[2 * h_pos[n][2] * S for n in h_names], opacity=1,
               color=["#4d4d4d" if n in h_inner else "#4a4a4a" for n in h_names], line=dict(width=0)),
   xaxis="x7", yaxis="y7")
# subtle hatching on the query (inner) genes
hx, hy = [], []
for n in h_inner:
    cx0, cy0, r0 = h_pos[n]
    for k in range(-5, 6):
        off = k * 12.0
        if r0 * r0 - off * off <= 0:
            continue
        ox, oy = off / np.sqrt(2), off / np.sqrt(2)
        half = np.sqrt(r0 * r0 - off * off) * 0.95
        dx, dy = half / np.sqrt(2), -half / np.sqrt(2)
        hx += [cx0 + ox - dx, cx0 + ox + dx, None]
        hy += [cy0 + oy - dy, cy0 + oy + dy, None]
sc(x=hx, y=hy, mode="lines", line=dict(color="rgba(125,125,125,0.55)", width=f(1.5)), xaxis="x7", yaxis="y7")
sc(x=[h_pos[n][0] for n in h_names], y=[h_pos[n][1] for n in h_names], mode="text",
   text=h_names, textposition="middle center",
   textfont=dict(family=ARIAL, size=f(30), color="white",
                 shadow="2px 2px 0px #3a3a3a, -2px -2px 0px #3a3a3a, 2px -2px 0px #3a3a3a, -2px 2px 0px #3a3a3a"),
   xaxis="x7", yaxis="y7")

# ---- legend squares (KM) & count legend (F) ----
sc(x=[813.5, 813.5, 2057, 2057], y=[1417, 1469, 1420, 1470], mode="markers",
   marker=dict(symbol="square", size=f(42), opacity=1, color=[AMP_RED, NO_BLUE, AMP_RED, NO_BLUE],
               line=dict(width=0)), xaxis="x7", yaxis="y7")
sc(x=[78, 78, 1334.5, 1334.5], y=[2243, 2277, 2236, 2272], mode="markers",
   marker=dict(symbol="square", size=f(26), opacity=1, color=[AMP_RED, NO_BLUE, AMP_RED, NO_BLUE],
               line=dict(width=0)), xaxis="x7", yaxis="y7")
cnt_y = [1396, 1456, 1514, 1574, 1633, 1692]
sc(x=[3966] * len(f_count_levels), y=cnt_y, mode="markers",
   marker=dict(size=count_size(f_count_levels), opacity=1, color="black", line=dict(width=0)),
   xaxis="x7", yaxis="y7")

# ============================ AXES ============================
def cont_axis(dom, rng, anchor, **kw):
    d = dict(domain=dom, range=rng, autorange=False, anchor=anchor, showgrid=False, zeroline=False,
             showline=True, linecolor="black", linewidth=f(2.5), ticks="outside", ticklen=fi(7),
             tickwidth=f(2), tickcolor="#333333", fixedrange=True)
    d.update(kw)
    return d


def minus(v):
    s = ("%g" % v)
    return s.replace("-", "\u2212")


ab_font = dict(family=ARIAL, size=f(28), color="#4d4d4d")
km_font = dict(family=NARROW, size=f(24), color="#444444")

layout_axes = dict(
    xaxis=cont_axis([px(140.6), px(830.4)], [-11, 11], "y", tickvals=a_xticks,
                    ticktext=[minus(v) for v in a_xticks], tickfont=ab_font, ticklabelstandoff=-6),
    yaxis=cont_axis([py(1033), py(139)], [-0.171, 6.192], "x", tickvals=a_yticks,
                    ticktext=[str(v) for v in a_yticks], tickfont=ab_font, ticklabelstandoff=fi(4)),
    xaxis2=cont_axis([px(1164.4), px(1827.7)], [-11, 11], "y2", tickvals=a_xticks,
                     ticktext=[minus(v) for v in a_xticks], tickfont=ab_font, ticklabelstandoff=-6),
    yaxis2=cont_axis([py(1028), py(139)], [0.0135, 2.543], "x2", tickvals=b_yticks,
                     ticktext=["%.1f" % v for v in b_yticks], tickfont=ab_font, ticklabelstandoff=fi(4)),
    xaxis3=cont_axis([px(163.3), px(1257)], [0, 175.9], "y3", tickvals=d_xticks,
                     ticktext=[str(v) for v in d_xticks], tickfont=km_font, linecolor="#555555",
                     linewidth=f(2), ticklen=fi(6), tickcolor="#555555", ticklabelstandoff=-4),
    yaxis3=cont_axis([py(2117.6), py(1319)], [0, 104.6], "x3", tickvals=km_yticks,
                     ticktext=["%d%%" % v for v in km_yticks], tickfont=km_font, linecolor="#555555",
                     linewidth=f(2), ticklen=fi(6), tickcolor="#555555", ticklabelstandoff=fi(3)),
    xaxis4=cont_axis([px(1412.2), px(2504.5)], [0, 293.2], "y4", tickvals=e_xticks,
                     ticktext=[str(v) for v in e_xticks], tickfont=km_font, linecolor="#555555",
                     linewidth=f(2), ticklen=fi(6), tickcolor="#555555", ticklabelstandoff=-4),
    yaxis4=cont_axis([py(2117.6), py(1322.8)], [0, 104.4], "x4", tickvals=km_yticks,
                     ticktext=["%d%%" % v for v in km_yticks], tickfont=km_font, linecolor="#555555",
                     linewidth=f(2), ticklen=fi(6), tickcolor="#555555", ticklabelstandoff=fi(3)),
    xaxis5=cont_axis([px(3153), px(3880)], [9.63, 62.8], "y5", tickvals=f_xticks,
                     ticktext=[str(v) for v in f_xticks], ticklen=fi(8),
                     tickfont=dict(family=NARROW, size=f(29), color="#4d4d4d"), ticklabelstandoff=-18),
    yaxis5=dict(domain=[py(2171), py(1288)], anchor="x5", type="category", categoryorder="array",
                categoryarray=f_terms[::-1], range=[-0.6, len(f_terms) - 0.4], autorange=False,
                showgrid=False, zeroline=False, showline=True, linecolor="black", linewidth=f(2.5),
                ticks="outside", ticklen=fi(8), tickwidth=f(2), tickcolor="#333333", fixedrange=True,
                tickfont=dict(family=LATO, size=f(47), color="black", weight=700), ticklabelstandoff=fi(8)),
    xaxis6=dict(domain=[px(2954), px(3763)], anchor="y6", type="category", showgrid=False, zeroline=False,
                showline=False, ticks="", tickangle=90, fixedrange=True,
                tickfont=dict(family=ARIAL, size=f(53), color="black", weight=700), ticklabelstandoff=fi(10)),
    yaxis6=dict(domain=[py(3357), py(2541)], anchor="x6", type="category", autorange="reversed",
                side="right", showgrid=False, zeroline=False, showline=False, ticks="", fixedrange=True,
                tickfont=dict(family=ARIAL, size=f(53), color="black", weight=700), ticklabelstandoff=fi(12)),
    xaxis7=dict(domain=[0, 1], range=[0, W], anchor="y7", visible=False, fixedrange=True),
    yaxis7=dict(domain=[0, 1], range=[H, 0], anchor="x7", visible=False, fixedrange=True),
)

# ============================ ANNOTATIONS ============================
anns = []


def txt(text, x, y, size, family=LATO, color="black", weight=700, xanchor="center", yanchor="middle",
        angle=0, xref="paper", yref="paper"):
    anns.append(dict(text=text, x=(px(x) if xref == "paper" else x), y=(py(y) if yref == "paper" else y),
                     xref=xref, yref=yref, showarrow=False, textangle=angle, xanchor=xanchor,
                     yanchor=yanchor, borderpad=0,
                     font=dict(family=family, size=f(size), color=color, weight=weight)))


# panel letters
for lab, x, y, s in [("A", 44, 50, 54), ("B", 1057, 50, 54), ("C", 2174, 46, 57), ("D", 56, 1239, 54),
                     ("E", 1308, 1239, 54), ("F", 2552, 1239, 54), ("G", 125, 2512, 66),
                     ("H", 1462, 2513, 66), ("I", 2942, 2431, 57)]:
    txt(lab, x, y, s, family=ARIAL)

# A / B titles
txt("Negative log10 p-value", 58, 554, 54, angle=-90)
txt("Negative log10 p-value", 1069, 554, 54, angle=-90)
txt("AMP Log ratio", 487, 1156, 50, family=OPEN)
txt("AMP Log ratio", 1495, 1156, 50, family=OPEN)
txt(a_groups[0], 279, 1097, 38, family=DEJAVU, weight=400, color="#1a1a1a")
txt(a_groups[1], 674, 1097, 38, family=DEJAVU, weight=400, color="#1a1a1a")
txt(b_groups[0], 1308, 1093, 38, family=DEJAVU, weight=400, color="#1a1a1a")
txt(b_groups[1], 1691, 1101, 38, family=DEJAVU, weight=400, color="#1a1a1a")

# C texts
txt(venn_sets[0], 2391, 152, 66, color="#8080ff")
txt(venn_sets[1], 3676, 152, 66, color="#f5b800")
txt(venn_result, 3021, 1129, 66, color="#00b050")
tot = float(sum(venn_counts))
for cx, n in zip([2672, 3021, 3372], venn_counts):
    txt(str(n), cx, 608, 46, family=SERIF)
    txt("(%.1f%%)" % (100 * n / tot), cx, 651, 32, family=SERIF)

# D / E texts
txt("EoCRC", 698, 1261, 62)
txt("CRC", 1929, 1279, 62)
for x in (65, 1316):
    txt("Probability of Overall survival", x, 1724, 52, angle=-90)
txt("Overall survival (Month)", 690, 2183, 54)
txt("Overall survival (Month)", 1949, 2183, 54)
txt(km_groups[0], 843, 1414, 53, xanchor="left")
txt(km_groups[1], 843, 1471, 53, xanchor="left")
txt(km_groups[0], 2086, 1417, 53, xanchor="left")
txt(km_groups[1], 2086, 1472, 53, xanchor="left")
txt(d_stats[0], 218, 1970, 53, weight=400, xanchor="left")
txt(d_stats[1], 218, 2047, 53, weight=400, xanchor="left")
txt(e_stats[0], 1470, 1973, 53, weight=400, xanchor="left")
txt(e_stats[1], 1470, 2047, 53, weight=400, xanchor="left")
for xv, ra, rn in zip(d_xticks, d_risk_amp, d_risk_no):
    txt(str(ra), xv, 2243, 25, family=NARROW, weight=400, color="#333333", xref="x3")
    txt(str(rn), xv, 2277, 25, family=NARROW, weight=400, color="#333333", xref="x3")
for xv, ra, rn in zip(e_xticks, e_risk_amp, e_risk_no):
    txt(str(ra), xv, 2235, 25, family=NARROW, weight=400, color="#333333", xref="x4")
    txt(str(rn), xv, 2270, 25, family=NARROW, weight=400, color="#333333", xref="x4")

# F texts
txt("Combined score", 3542, 2242, 56)
txt("Count", 3918, 1354, 42, xanchor="left")
txt("NegLog10", 3906, 1763, 42, xanchor="left")
txt("q-value", 3906, 1812, 42, xanchor="left")
for cv, yy in zip(f_count_levels, cnt_y):
    txt(str(cv), 4014, yy, 32, family=NARROW, weight=400, color="#333333", xanchor="left")

# G labels
for gname in g_genes:
    gx0, gy0 = g_pos[gname]
    txt(gname, gx0, gy0, 32, family=ARIAL, weight=400, color="#111111", xref="x7", yref="y7")

# ============================ SHAPES ============================
shapes = []


def rrect(cx, cy, w, h, r):
    x0, x1, y0, y1 = cx - w / 2, cx + w / 2, cy - h / 2, cy + h / 2
    return (f"M {x0 + r},{y0} L {x1 - r},{y0} Q {x1},{y0} {x1},{y0 + r} L {x1},{y1 - r} "
            f"Q {x1},{y1} {x1 - r},{y1} L {x0 + r},{y1} Q {x0},{y1} {x0},{y1 - r} L {x0},{y0 + r} "
            f"Q {x0},{y0} {x0 + r},{y0} Z")


for gname in g_genes:
    gx0, gy0 = g_pos[gname]
    shapes.append(dict(type="path", path=rrect(gx0, gy0, 201, 92, 10), xref="x7", yref="y7",
                       fillcolor=g_col[gname], line=dict(width=0), layer="above"))

# Venn arrow
shapes.append(dict(type="path", xref="x7", yref="y7", layer="above",
                   path="M 3010,970 L 3030,970 L 3030,1058 L 3044,1058 L 3020,1080 L 2996,1058 L 3010,1058 Z",
                   fillcolor="#6f8fd3", line=dict(color="#2f4f8f", width=f(3))))

# white tick marks on F colourbar
for v in f_q_ticks:
    yy = 2147 - (v - F_CMIN) / (F_CMAX - F_CMIN) * (2147 - 1851)
    for xa, xb in ((3938, 3950), (3985, 3997)):
        shapes.append(dict(type="line", xref="paper", yref="paper", x0=px(xa), x1=px(xb), y0=py(yy), y1=py(yy),
                           line=dict(color="white", width=f(2)), layer="above"))

fig.update_layout(
    width=4096, height=3765, autosize=False,
    margin=dict(l=0, r=0, t=0, b=0, pad=0),
    paper_bgcolor="white", plot_bgcolor="rgba(0,0,0,0)",
    showlegend=False, hovermode=False,
    annotations=anns, shapes=shapes,
    **layout_axes,
)

fig.write_html("out.html")
